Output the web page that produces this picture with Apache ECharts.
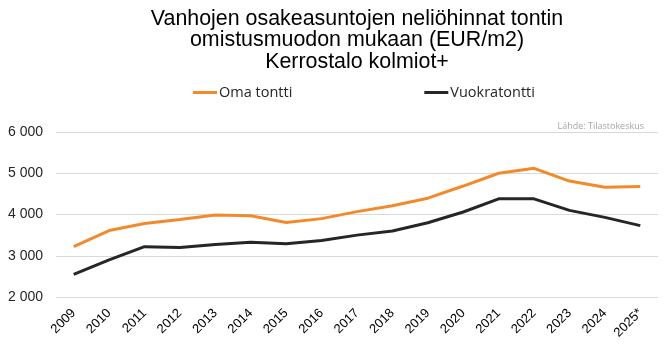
<!DOCTYPE html>
<html><head><meta charset="utf-8">
<script src="https://cdn.jsdelivr.net/npm/echarts@6/dist/echarts.min.js"></script>
<style>html,body{margin:0;padding:0;background:#fff}#c{width:666px;height:348px}</style>
</head><body><div id="c"></div>
<script>
var years = ['2009','2010','2011','2012','2013','2014','2015','2016','2017','2018','2019','2020','2021','2022','2023','2024','2025*'];
var omaTontti = [3220,3610,3780,3880,3990,3970,3805,3900,4070,4210,4395,4690,5000,5120,4810,4660,4680];
var vuokratontti = [2550,2900,3220,3200,3270,3330,3290,3370,3500,3600,3800,4060,4380,4380,4100,3930,3730];
var yTicks = [2000,3000,4000,5000,6000];

var chart = echarts.init(document.getElementById('c'));
chart.setOption({
  animation:false,
  textStyle:{fontFamily:'Liberation Sans, Arial, sans-serif'},
  title:[{
    text:'Vanhojen osakeasuntojen neliöhinnat tontin\nomistusmuodon mukaan (EUR/m2)\nKerrostalo kolmiot+',
    left:352, textAlign:'center', top:3,
    textStyle:{fontSize:21.4, fontWeight:'normal', color:'#000', lineHeight:21.5}
  },{
    text:'Lähde: Tilastokeskus', right:17, top:117,
    textStyle:{fontSize:9, fontWeight:'normal', color:'#a6a6a6', fontFamily:'Open Sans'}
  }],
  legend:{
    top:80, left:188, itemGap:132, itemWidth:24, itemHeight:3,
    icon:'rect',
    textStyle:{fontSize:14.5, color:'#262626', fontFamily:'Open Sans', padding:[0,0,0,-3]},
    data:['Oma tontti','Vuokratontti']
  },
  grid:{left:56, right:8, top:132, bottom:51},
  xAxis:{
    type:'category', data:years, boundaryGap:true,
    axisLine:{show:false}, axisTick:{show:false},
    axisLabel:{rotate:45, fontSize:13, color:'#000', margin:14, interval:0}
  },
  yAxis:{
    type:'value', min:2000, max:6000, interval:1000,
    axisLine:{show:false}, axisTick:{show:false},
    splitLine:{lineStyle:{color:'#d9d9d9', width:1}},
    axisLabel:{fontSize:14, color:'#262626', margin:13,
      formatter:function(v){return yTicks.indexOf(v)>=0 ? String(v).replace(/\B(?=(\d{3})+(?!\d))/g,' ') : '';}}
  },
  series:[
    {name:'Oma tontti', type:'line', data:omaTontti, symbol:'none', lineStyle:{width:3, color:'#f28a2b'}, itemStyle:{color:'#f28a2b'}},
    {name:'Vuokratontti', type:'line', data:vuokratontti, symbol:'none', lineStyle:{width:3, color:'#262626'}, itemStyle:{color:'#262626'}}
  ]
});
</script></body></html>
